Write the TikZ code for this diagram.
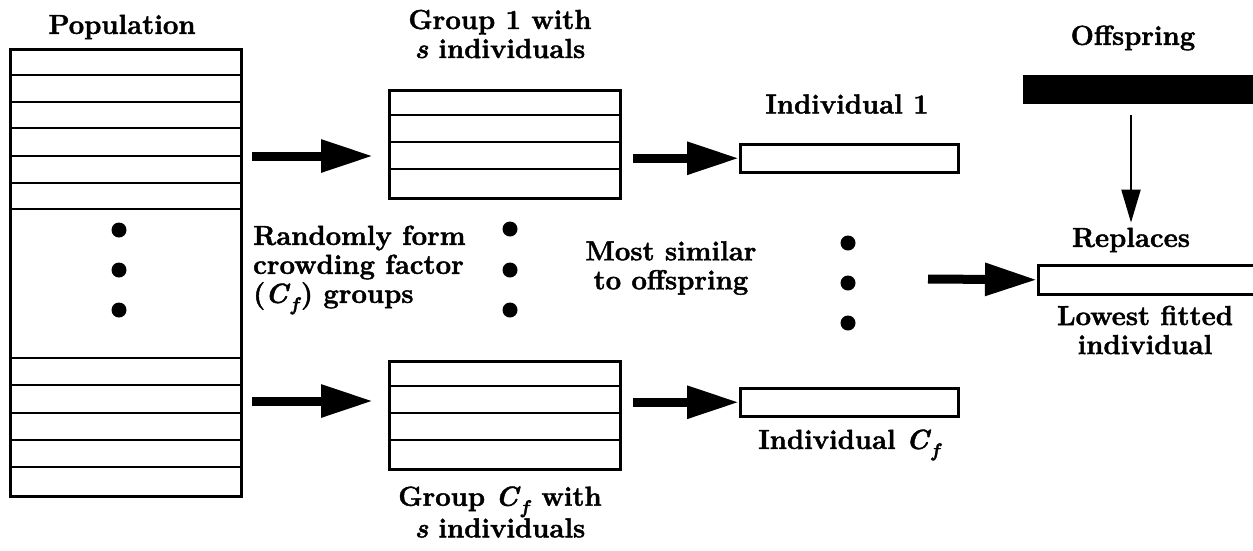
\documentclass[tikz,border=0pt]{standalone}
\usepackage{fontspec}
\setmainfont{Latin Modern Roman}[BoldFeatures={FakeBold=1.6}, BoldItalicFeatures={FakeBold=1.6}]
\usetikzlibrary{arrows.meta}
\newcommand{\Cf}{\textit{C}\kern0.02em\raisebox{-0.28em}{\fontsize{19}{19}\selectfont\textit{f}}}
\begin{document}
\begin{tikzpicture}[x=1pt,y=-1pt,
  lbl/.style={font=\fontsize{27.5}{29}\selectfont\bfseries, align=center, inner sep=0pt},
  cellbox/.style={draw, line width=2.5pt, inner sep=0pt, anchor=north west},
  rowline/.style={line width=2.5pt},
  bigarrow/.style={line width=9pt, -{Triangle[length=52pt,width=31pt]}},
  thinarrow/.style={line width=2.2pt, -{Triangle[length=33pt,width=19pt]}},
  dotmark/.style={circle, fill, inner sep=0pt, minimum size=15pt}]
\useasboundingbox (0,0) rectangle (1253,550);

% Population
\node[lbl] (poplbl) at (122,27) {Population};
\node[cellbox, minimum width=231pt, minimum height=447pt] (pop) at (9,48) {};
\foreach \yy in {75,102,128,156,183,209,358,385,413,440,467}
  \draw[rowline] (9,\yy) -- (240,\yy);
\node[dotmark] (pd1) at (119,230) {};
\node[dotmark] (pd2) at (119,270) {};
\node[dotmark] (pd3) at (119,310) {};

% Group 1
\node[lbl] (g1lbl) at (500,34) {Group 1 with\\\textit{s} individuals};
\node[cellbox, minimum width=231pt, minimum height=108pt] (g1) at (388,89) {};
\foreach \yy in {115,142,169}
  \draw[rowline] (388,\yy) -- (619,\yy);

% Group Cf
\node[cellbox, minimum width=231pt, minimum height=108pt] (gc) at (388,360) {};
\foreach \yy in {386,413,440}
  \draw[rowline] (388,\yy) -- (619,\yy);
\node[lbl] (gclbl) at (500,512) {Group \Cf{} with\\\textit{s} individuals};

% Individuals
\node[cellbox, minimum width=218pt, minimum height=28pt] (ind1) at (739,143) {};
\node[lbl] (ind1lbl) at (847,104) {Individual 1};
\node[cellbox, minimum width=218pt, minimum height=28pt] (indc) at (739,387) {};
\node[lbl] (indclbl) at (850,445) {Individual \Cf};

% Offspring
\node[lbl] (offlbl) at (1133,38) {Offspring};
\node[fill=black, inner sep=0pt, minimum width=240pt, minimum height=29pt, anchor=north west] (off) at (1023,75) {};

% Replaces
\node[lbl] (rlbl) at (1131,240) {Replaces};
\node[cellbox, minimum width=230pt, minimum height=29pt] (repl) at (1037,264) {};
\node[lbl] (lowlbl) at (1145,330) {Lowest fitted\\individual};

% Middle texts
\node[lbl, align=left, anchor=west] (rand) at (253,270) {Randomly form\\crowding factor\\(\Cf) groups};
\node[dotmark] (md1) at (510,229) {};
\node[dotmark] (md2) at (510,270) {};
\node[dotmark] (md3) at (510,310) {};
\node[lbl] (most) at (671,268) {Most similar\\to offspring};
\node[dotmark] (rd1) at (848,243) {};
\node[dotmark] (rd2) at (848,283) {};
\node[dotmark] (rd3) at (848,323) {};

% Arrows
\coordinate (aA) at (252,156);
\coordinate (aD) at (252,401);
\coordinate (aC) at (928,279);
\draw[bigarrow, shorten >=15pt] (aA) -- (aA -| g1.west);
\draw[bigarrow, shorten >=15pt] (aD) -- (aD -| gc.west);
\draw[bigarrow, shorten <=11pt] (ind1.west -| g1.east) -- (ind1.west);
\draw[bigarrow, shorten <=11pt] (indc.west -| gc.east) -- (indc.west);
\draw[bigarrow] (aC) -- (repl.west);
\draw[thinarrow, shorten <=11pt, shorten >=5pt] (off.south -| rlbl.north) -- (rlbl.north);
\end{tikzpicture}
\end{document}
